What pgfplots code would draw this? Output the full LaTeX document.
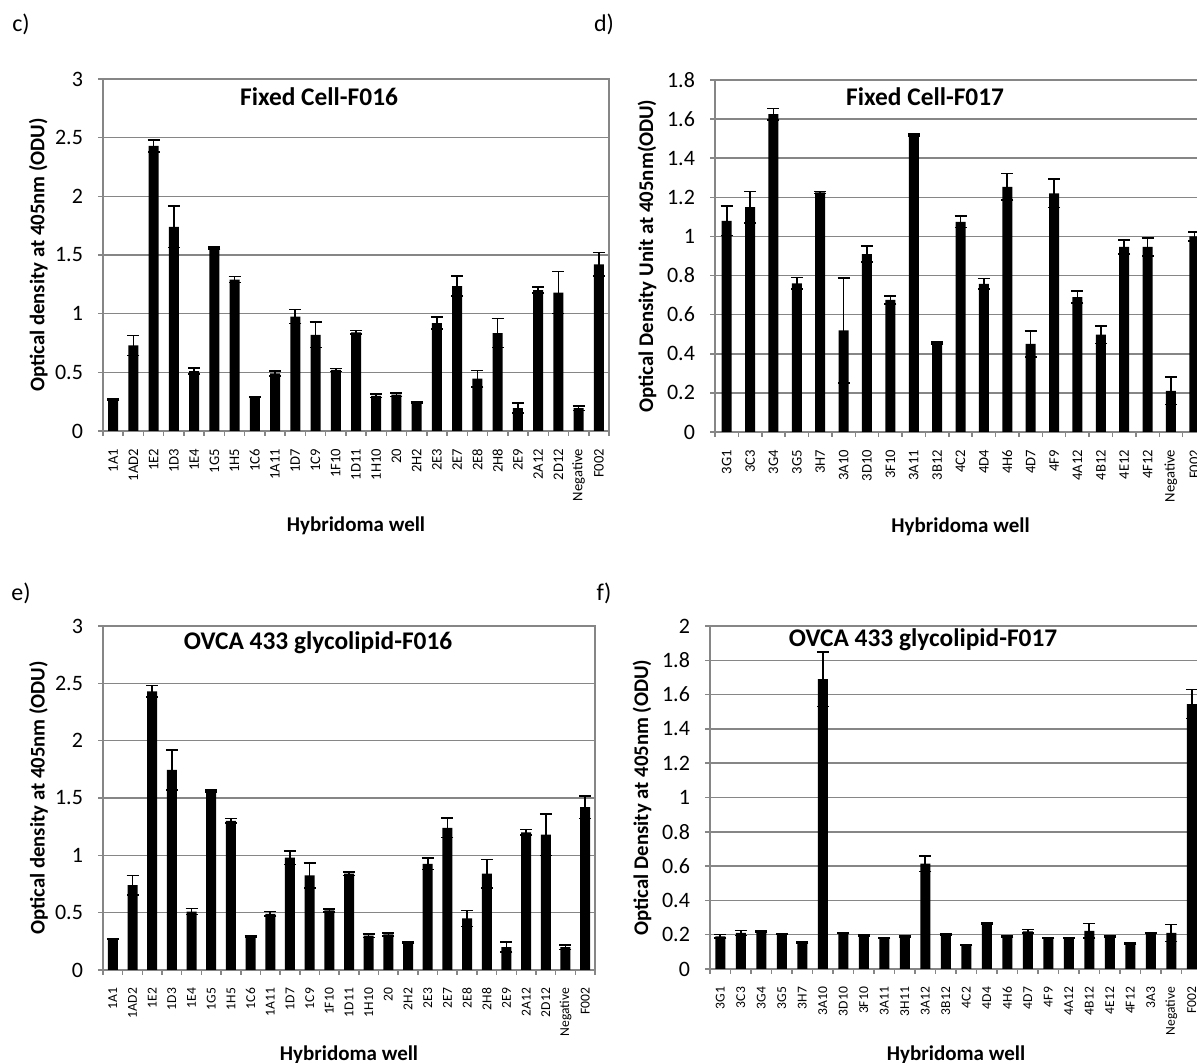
\documentclass[border=0pt]{standalone}
\usepackage{pgfplots}
\pgfplotsset{compat=1.18}
\usepackage{fontspec}
\setmainfont{Carlito}
\definecolor{axgray}{RGB}{134,134,134}
\pgfplotsset{
  odstyle/.style={
    scale only axis,
    ybar, bar width=5pt,
    ymin=0,
    axis line style={draw=axgray, line width=0.75pt},
    every tick/.style={draw=axgray, line width=0.75pt},
    major tick length=2.5pt,
    tick align=outside,
    xtick pos=bottom, ytick pos=left,
    ymajorgrids, grid style={draw=axgray, line width=0.75pt},
    x tick label as interval,
    xticklabel style={rotate=90, anchor=east, font=\fontsize{7.3}{8}\selectfont},
    xticklabel shift=3pt,
    yticklabel style={font=\fontsize{11}{12}\selectfont},
    yticklabel shift=4pt,
    /pgf/number format/assume math mode=true,
    enlarge x limits=false,
    xlabel={Hybridoma well},
    xlabel style={font=\bfseries\fontsize{10.5}{12}\selectfont, at={(axis description cs:0.5,0)}, anchor=center},
    ylabel style={font=\bfseries\fontsize{10.4}{12}\selectfont, anchor=center},
    error bars/y dir=both, error bars/y explicit,
    error bars/error bar style={black, line width=0.8pt},
    error bars/error mark options={black, line width=0.8pt, mark size=3pt, rotate=90},
  },
  barst/.style={fill=black, draw=none},
}
\begin{document}
\begin{tikzpicture}
\useasboundingbox (0,0) rectangle (598.5pt,531.5pt);
\clip (0,0) rectangle (598.5pt,531.5pt);
\fill[white] (0,0) rectangle (598.5pt,531.5pt);
% ---------------- c) ----------------
\begin{axis}[odstyle, at={(51.5pt,316pt)}, anchor=south west,
  width=253pt, height=176pt,
  xmin=-0.5, xmax=24.5, ymax=3,
  ytick={0,0.5,1,1.5,2,2.5,3},
  xtick={-0.5,0.5,...,24.5},
  xticklabels={1A1,1AD2,1E2,1D3,1E4,1G5,1H5,1C6,1A11,1D7,1C9,1F10,1D11,1H10,20,2H2,2E3,2E7,2E8,2H8,2E9,2A12,2D12,Negative,F002},
  ylabel={Optical density at 405nm (ODU)},
  ylabel style={at={(axis description cs:-0.128,0.5)}},
  xlabel style={yshift=-47.5pt},
]
\addplot[barst] coordinates {
(0,0.27) +- (0,0.005)
(1,0.73) +- (0,0.085)
(2,2.43) +- (0,0.05)
(3,1.74) +- (0,0.175)
(4,0.51) +- (0,0.025)
(5,1.56) +- (0,0.01)
(6,1.29) +- (0,0.025)
(7,0.29) +- (0,0.005)
(8,0.49) +- (0,0.02)
(9,0.975) +- (0,0.06)
(10,0.82) +- (0,0.11)
(11,0.52) +- (0,0.012)
(12,0.84) +- (0,0.015)
(13,0.30) +- (0,0.015)
(14,0.31) +- (0,0.015)
(15,0.24) +- (0,0.005)
(16,0.92) +- (0,0.05)
(17,1.235) +- (0,0.085)
(18,0.446) +- (0,0.07)
(19,0.835) +- (0,0.125)
(20,0.195) +- (0,0.042)
(21,1.20) +- (0,0.025)
(22,1.18) +- (0,0.18)
(23,0.195) +- (0,0.02)
(24,1.42) +- (0,0.10)
};
\node[font=\bfseries\fontsize{12.7}{14}\selectfont] at (rel axis cs:0.427,0.949) {Fixed Cell-F016};
\end{axis}
% ---------------- d) ----------------
\begin{axis}[odstyle, at={(357.5pt,315.5pt)}, anchor=south west,
  width=245.5pt, height=176pt,
  xmin=-0.5, xmax=20.5, ymax=1.8,
  ytick={0,0.2,0.4,0.6,0.8,1,1.2,1.4,1.6,1.8},
  xtick={-0.5,0.5,...,20.5},
  xticklabels={3G1,3C3,3G4,3G5,3H7,3A10,3D10,3F10,3A11,3B12,4C2,4D4,4H6,4D7,4F9,4A12,4B12,4E12,4F12,Negative,F002},
  ylabel={Optical Density Unit at 405nm(ODU)},
  ylabel style={at={(axis description cs:-0.1385,0.5)}},
  xlabel style={yshift=-47.5pt},
]
\addplot[barst] coordinates {
(0,1.08) +- (0,0.075)
(1,1.15) +- (0,0.08)
(2,1.625) +- (0,0.03)
(3,0.76) +- (0,0.03)
(4,1.225) +- (0,0.005)
(5,0.52) +- (0,0.268)
(6,0.91) +- (0,0.04)
(7,0.675) +- (0,0.02)
(8,1.52) +- (0,0.005)
(9,0.455) +- (0,0.005)
(10,1.075) +- (0,0.03)
(11,0.757) +- (0,0.027)
(12,1.254) +- (0,0.068)
(13,0.45) +- (0,0.067)
(14,1.22) +- (0,0.073)
(15,0.69) +- (0,0.03)
(16,0.498) +- (0,0.045)
(17,0.946) +- (0,0.036)
(18,0.946) +- (0,0.046)
(19,0.21) +- (0,0.07)
(20,1.0) +- (0,0.024)
};
\node[font=\bfseries\fontsize{12.7}{14}\selectfont] at (rel axis cs:0.428,0.952) {Fixed Cell-F017};
\end{axis}
% ---------------- e) ----------------
\begin{axis}[odstyle, at={(51.5pt,46.5pt)}, anchor=south west,
  width=246pt, height=172pt,
  xmin=-0.5, xmax=24.5, ymax=3,
  ytick={0,0.5,1,1.5,2,2.5,3},
  xtick={-0.5,0.5,...,24.5},
  xticklabels={1A1,1AD2,1E2,1D3,1E4,1G5,1H5,1C6,1A11,1D7,1C9,1F10,1D11,1H10,20,2H2,2E3,2E7,2E8,2H8,2E9,2A12,2D12,Negative,F002},
  xticklabel style={font=\fontsize{6.8}{8}\selectfont},
  ylabel={Optical density at 405nm (ODU)},
  ylabel style={at={(axis description cs:-0.131,0.5)}},
  xlabel style={yshift=-42.5pt},
]
\addplot[barst] coordinates {
(0,0.27) +- (0,0.005)
(1,0.74) +- (0,0.085)
(2,2.43) +- (0,0.05)
(3,1.745) +- (0,0.175)
(4,0.51) +- (0,0.025)
(5,1.56) +- (0,0.01)
(6,1.30) +- (0,0.02)
(7,0.29) +- (0,0.005)
(8,0.49) +- (0,0.02)
(9,0.98) +- (0,0.06)
(10,0.825) +- (0,0.11)
(11,0.52) +- (0,0.012)
(12,0.84) +- (0,0.015)
(13,0.30) +- (0,0.015)
(14,0.31) +- (0,0.015)
(15,0.24) +- (0,0.005)
(16,0.925) +- (0,0.05)
(17,1.24) +- (0,0.085)
(18,0.45) +- (0,0.07)
(19,0.84) +- (0,0.125)
(20,0.20) +- (0,0.042)
(21,1.20) +- (0,0.025)
(22,1.18) +- (0,0.18)
(23,0.20) +- (0,0.02)
(24,1.42) +- (0,0.10)
};
\node[font=\bfseries\fontsize{12.7}{14}\selectfont] at (rel axis cs:0.437,0.95) {OVCA 433 glycolipid-F016};
\end{axis}
% ---------------- f) ----------------
\begin{axis}[odstyle, at={(355pt,47pt)}, anchor=south west,
  width=246pt, height=171.5pt,
  xmin=-0.5, xmax=23.5, ymax=2,
  ytick={0,0.2,0.4,0.6,0.8,1,1.2,1.4,1.6,1.8,2},
  xtick={-0.5,0.5,...,23.5},
  xticklabels={3G1,3C3,3G4,3G5,3H7,3A10,3D10,3F10,3A11,3H11,3A12,3B12,4C2,4D4,4H6,4D7,4F9,4A12,4B12,4E12,4F12,3A3,Negative,F002},
  xticklabel style={font=\fontsize{6.8}{8}\selectfont},
  ylabel={Optical Density at 405nm (ODU)},
  ylabel style={at={(axis description cs:-0.138,0.5)}},
  xlabel style={yshift=-43pt},
]
\addplot[barst] coordinates {
(0,0.19) +- (0,0.01)
(1,0.21) +- (0,0.015)
(2,0.22) +- (0,0.003)
(3,0.205) +- (0,0.003)
(4,0.155) +- (0,0.003)
(5,1.69) +- (0,0.16)
(6,0.21) +- (0,0.003)
(7,0.195) +- (0,0.003)
(8,0.18) +- (0,0.003)
(9,0.19) +- (0,0.003)
(10,0.614) +- (0,0.046)
(11,0.20) +- (0,0.003)
(12,0.14) +- (0,0.003)
(13,0.265) +- (0,0.003)
(14,0.19) +- (0,0.003)
(15,0.22) +- (0,0.01)
(16,0.18) +- (0,0.003)
(17,0.18) +- (0,0.003)
(18,0.223) +- (0,0.042)
(19,0.19) +- (0,0.003)
(20,0.15) +- (0,0.003)
(21,0.21) +- (0,0.003)
(22,0.21) +- (0,0.05)
(23,1.545) +- (0,0.085)
};
\node[font=\bfseries\fontsize{12.7}{14}\selectfont] at (rel axis cs:0.433,0.959) {OVCA 433 glycolipid-F017};
\end{axis}
% panel letters
\node[font=\fontsize{12}{14}\selectfont] at (10.5pt,519.5pt) {c)};
\node[font=\fontsize{12}{14}\selectfont] at (302pt,519.5pt) {d)};
\node[font=\fontsize{12}{14}\selectfont] at (10.5pt,235pt) {e)};
\node[font=\fontsize{12}{14}\selectfont] at (302pt,235pt) {f)};
\end{tikzpicture}
\end{document}
